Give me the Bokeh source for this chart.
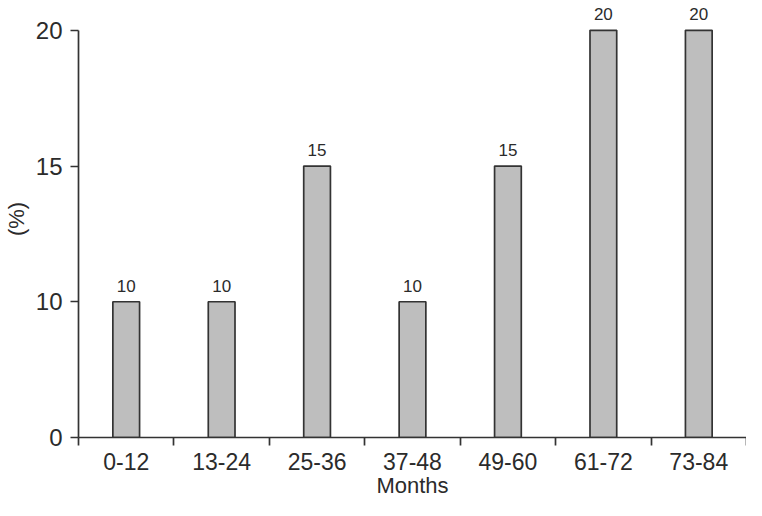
from bokeh.plotting import figure
from bokeh.models import ColumnDataSource, FixedTicker, LabelSet, Range1d
from bokeh.core.properties import value
from bokeh.embed import file_html
from bokeh.resources import INLINE

# ---- data ----
categories = ["0-12", "13-24", "25-36", "37-48", "49-60", "61-72", "73-84"]
percent = [10, 10, 15, 10, 15, 20, 20]
y_ticks = [5, 10, 15, 20]
y_tick_labels = ["0", "10", "15", "20"]
axis_base = 5   # the bottom of the (broken) axis, labelled "0"
axis_top = 20

n = len(categories)
xs = [i + 0.5 for i in range(n)]
src = ColumnDataSource(dict(x=xs, top=percent, label=[str(v) for v in percent]))

FONT = "Liberation Sans"
TXT = "#2b2b2b"
LINE = "#333333"

H, BOTTOM = 500, 60
frame_h = H - BOTTOM
px_per_unit = (frame_h - 30) / (axis_top - axis_base)
y_end = axis_top + 30 / px_per_unit

p = figure(width=746, height=H, output_backend="svg", toolbar_location=None,
           x_range=Range1d(0, n), y_range=Range1d(axis_base, y_end),
           min_border_left=72, min_border_right=0, min_border_top=0,
           min_border_bottom=BOTTOM)
p.outline_line_color = None
p.grid.visible = False
p.background_fill_color = "white"
p.border_fill_color = "white"

p.vbar(x="x", top="top", bottom=axis_base, width=0.28, source=src,
       fill_color="#bebebe", line_color=LINE, line_width=1.7)

labels = LabelSet(x="x", y="top", text="label", source=src,
                  text_align="center", text_baseline="bottom", y_offset=10,
                  text_font=value(FONT), text_font_size="17px", text_color=TXT)
p.add_layout(labels)

# x axis: labels at centres, ticks at category boundaries
xa = p.xaxis[0]
xa.ticker = FixedTicker(ticks=xs, minor_ticks=list(range(n + 1)))
xa.major_label_overrides = {x: c for x, c in zip(xs, categories)}
xa.major_tick_out = 0
xa.major_tick_in = 0
xa.minor_tick_out = 8
xa.minor_tick_in = 0
xa.minor_tick_line_color = LINE
xa.minor_tick_line_width = 1.7
xa.axis_line_color = LINE
xa.axis_line_width = 1.7
xa.major_label_text_font = FONT
xa.major_label_text_font_size = "23px"
xa.major_label_text_color = TXT
xa.major_label_standoff = 7
xa.axis_label = "Months"
xa.axis_label_text_font = FONT
xa.axis_label_text_font_size = "22px"
xa.axis_label_text_font_style = "normal"
xa.axis_label_text_color = TXT
xa.axis_label_standoff = 0

ya = p.yaxis[0]
ya.ticker = FixedTicker(ticks=y_ticks, minor_ticks=[])
ya.major_label_overrides = {t: l for t, l in zip(y_ticks, y_tick_labels)}
ya.bounds = (axis_base, axis_top)
ya.major_tick_out = 8
ya.major_tick_in = 0
ya.major_tick_line_color = LINE
ya.major_tick_line_width = 1.7
ya.minor_tick_line_color = None
ya.axis_line_color = LINE
ya.axis_line_width = 1.7
ya.major_label_text_font = FONT
ya.major_label_text_font_size = "24px"
ya.major_label_text_color = TXT
ya.major_label_standoff = 8
ya.axis_label = "(%)"
ya.axis_label_text_font = FONT
ya.axis_label_text_font_size = "22px"
ya.axis_label_text_font_style = "normal"
ya.axis_label_text_color = TXT
ya.axis_label_standoff = 4

open("out.html", "w").write(file_html(p, INLINE))
